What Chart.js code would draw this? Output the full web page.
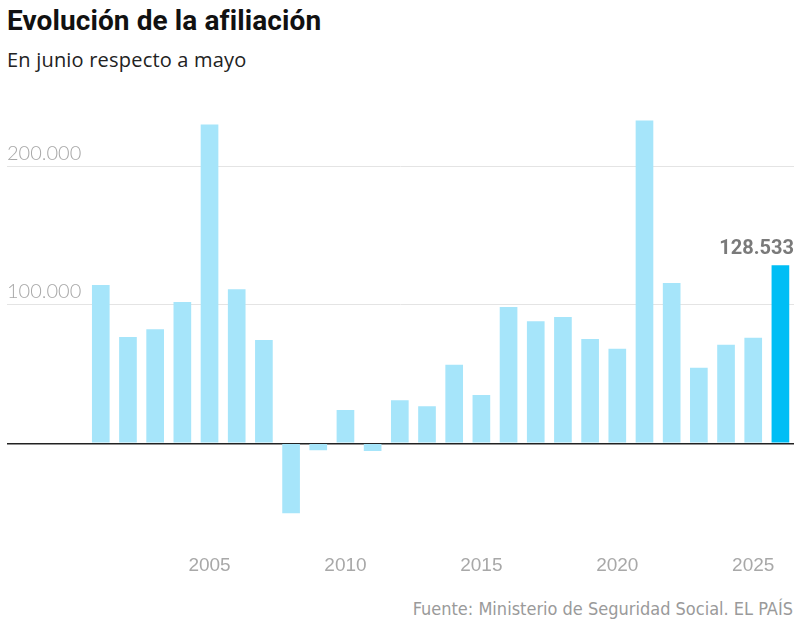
<!DOCTYPE html>
<html>
<head>
<meta charset="utf-8">
<script src="https://cdn.jsdelivr.net/npm/chart.js@4/dist/chart.umd.min.js"></script>
<style>
  body { margin: 0; background: #fff; width: 800px; height: 632px; position: relative; overflow: hidden; }
  #title { position: absolute; left: 7px; top: 4px; font: 700 28px Roboto, sans-serif; letter-spacing: 0.1px; color: #111; }
  #subtitle { position: absolute; left: 7px; top: 46px; font: 400 20px "Open Sans", sans-serif; letter-spacing: 0.2px; color: #222; }
  #chartBox { position: absolute; left: 0; top: 99px; width: 800px; height: 492px; }
  #source { position: absolute; right: 7px; top: 598px; font: 400 18px "Liberation Sans Narrow", "DejaVu Sans Condensed", sans-serif; color: #9a9a9a; }
</style>
</head>
<body>
<div id="title">Evolución de la afiliación</div>
<div id="subtitle">En junio respecto a mayo</div>
<div id="chartBox"><canvas id="afiliacionChart"></canvas></div>
<div id="source">Fuente: Ministerio de Seguridad Social. EL PAÍS</div>
<script>
const years = [2001, 2002, 2003, 2004, 2005, 2006, 2007, 2008, 2009, 2010, 2011, 2012, 2013,
               2014, 2015, 2016, 2017, 2018, 2019, 2020, 2021, 2022, 2023, 2024, 2025, 2026];
const afiliados = [114300, 76800, 82300, 102000, 230300, 111200, 74600, -50500, -5000, 24000, -5600, 31000, 26700,
                   56800, 34900, 98400, 88100, 91200, 75300, 68300, 233200, 115700, 54600, 71200, 76200, 128533];
const xTicks = [2005, 2010, 2015, 2020, 2025];
const yTicks = [0, 100000, 200000];

const lightBlue = 'rgb(166, 229, 250)';
const strongBlue = 'rgb(0, 190, 245)';
const lastIdx = afiliados.length - 1;

const fmt = v => v.toString().replace(/\B(?=(\d{3})+(?!\d))/g, '.');

// etiqueta del último valor, alineada a la derecha del área
const lastLabel = {
    id: 'lastLabel',
    afterDatasetsDraw(chart) {
        const bar = chart.getDatasetMeta(0).data[lastIdx];
        const c = chart.ctx;
        c.save();
        c.font = '700 20px Roboto, sans-serif';
        c.fillStyle = '#7a7a7a';
        c.textAlign = 'right';
        c.textBaseline = 'bottom';
        c.fillText(fmt(afiliados[lastIdx]), chart.chartArea.right, bar.y - 6);
        c.restore();
    }
};

const ctx = document.getElementById('afiliacionChart').getContext('2d');

const afiliacionChart = new Chart(ctx, {
    type: 'bar',
    data: {
        datasets: [{
            data: years.map((y, i) => ({ x: y, y: afiliados[i] })),
            backgroundColor: afiliados.map((v, i) => i === lastIdx ? strongBlue : lightBlue),
            borderWidth: 0,
            barPercentage: 0.65,
            categoryPercentage: 1
        }]
    },
    options: {
        responsive: true,
        maintainAspectRatio: false,
        animation: false,
        layout: { padding: { left: 7, right: 6, top: 10, bottom: 0 } },
        scales: {
            x: {
                type: 'linear',
                offset: false,
                min: 1997.55,
                max: 2026.5,
                afterBuildTicks: axis => { axis.ticks = xTicks.map(v => ({ value: v })); },
                ticks: {
                    color: '#a8a8a8',
                    font: { family: '"Liberation Sans Narrow", sans-serif', size: 19 },
                    padding: 14,
                    callback: v => String(v)
                },
                grid: { display: false, drawTicks: false },
                border: { display: false }
            },
            y: {
                min: -70000,
                max: 240000,
                afterBuildTicks: axis => { axis.ticks = yTicks.map(v => ({ value: v })); },
                ticks: {
                    mirror: true,
                    padding: 0,
                    labelOffset: -13,
                    color: '#a8a8a8',
                    font: { family: 'Lato, sans-serif', size: 20, weight: '300' },
                    callback: v => v === 0 ? '' : fmt(v)
                },
                grid: {
                    drawTicks: false,
                    color: c => c.tick && c.tick.value === 0 ? '#222' : '#e4e4e4',
                    lineWidth: c => c.tick && c.tick.value === 0 ? 1.5 : 1
                },
                border: { display: false }
            }
        },
        plugins: {
            legend: { display: false },
            tooltip: { enabled: false }
        }
    },
    plugins: [lastLabel]
});
</script>
</body>
</html>
